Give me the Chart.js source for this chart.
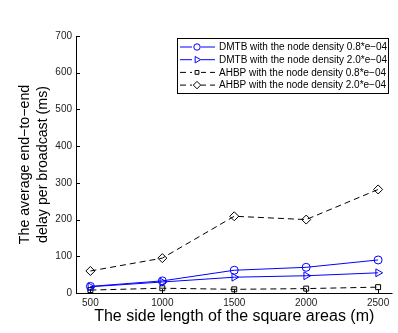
<!DOCTYPE html>
<html lang="en">
<head>
<meta charset="UTF-8">
<title>Average end-to-end delay</title>
<style>
    body { margin: 0; background: #fff; }
    #wrap { width: 398px; height: 333px; }
</style>
<script src="https://cdn.jsdelivr.net/npm/chart.js"></script>
</head>
<body>
<div id="wrap"><canvas id="delayChart" width="398" height="333"></canvas></div>
<script>
// data
const sideLengths = [500, 1000, 1500, 2000, 2500];
const dmtb08 = [18, 33, 62, 70, 90];
const dmtb20 = [17, 30, 43, 47, 55];
const ahbp08 = [8, 13, 10, 12, 16];
const ahbp20 = [60, 95, 209, 200, 282];
const xTicks = [500, 1000, 1500, 2000, 2500];
const yTicks = [0, 100, 200, 300, 400, 500, 600, 700];
const seriesNames = [
    'DMTB with the node density 0.8*e\u221204',
    'DMTB with the node density 2.0*e\u221204',
    'AHBP with the node density 0.8*e\u221204',
    'AHBP with the node density 2.0*e\u221204'
];

const FONT = "'Liberation Sans', Arial, Helvetica, sans-serif";

function pts(vals) {
    return sideLengths.map((x, i) => ({ x: x, y: vals[i] }));
}

// inward tick marks like matlab
const inwardTicks = {
    id: 'inwardTicks',
    afterDraw(chart) {
        const ctx = chart.ctx, a = chart.chartArea;
        const xs = chart.scales.x, ys = chart.scales.y;
        ctx.save();
        ctx.strokeStyle = '#000';
        ctx.lineWidth = 1;
        ctx.beginPath();
        ctx.moveTo(a.left + 0.5, a.top);
        ctx.lineTo(a.left + 0.5, a.bottom + 0.5);
        ctx.lineTo(a.right, a.bottom + 0.5);
        xTicks.forEach(v => {
            const px = Math.round(xs.getPixelForValue(v)) + 0.5;
            ctx.moveTo(px, a.bottom);
            ctx.lineTo(px, a.bottom - 4);
        });
        yTicks.forEach(v => {
            const py = Math.round(ys.getPixelForValue(v)) + 0.5;
            ctx.moveTo(a.left, py);
            ctx.lineTo(a.left + 4, py);
        });
        ctx.stroke();
        ctx.restore();
    }
};

// boxed legend inside the plot
const boxLegend = {
    id: 'boxLegend',
    afterDraw(chart) {
        const ctx = chart.ctx;
        const x0 = 177, y0 = 38, w = 211, h = 55;
        ctx.save();
        ctx.fillStyle = '#fff';
        ctx.fillRect(x0, y0, w, h);
        ctx.strokeStyle = '#000';
        ctx.lineWidth = 1;
        ctx.strokeRect(x0 + 0.5, y0 + 0.5, w, h);
        ctx.font = '10px ' + FONT;
        ctx.textBaseline = 'middle';
        chart.data.datasets.forEach((ds, i) => {
            const cy = y0 + 9 + i * 12.7;
            ctx.strokeStyle = ds.borderColor;
            ctx.lineWidth = 1;
            ctx.setLineDash(ds.borderDash || []);
            ctx.beginPath();
            ctx.moveTo(x0 + 3, cy);
            ctx.lineTo(x0 + 38, cy);
            ctx.stroke();
            ctx.setLineDash([]);
            // marker
            ctx.fillStyle = '#fff';
            ctx.fillRect(x0 + 15, cy - 4, 9, 8);
            Chart.helpers.drawPoint(ctx, {
                pointStyle: ds.pointStyle,
                radius: ds.pointRadius - 0.8,
                rotation: ds.pointRotation || 0,
                borderWidth: 1
            }, x0 + 20, cy);
            ctx.fillStyle = '#000';
            ctx.fillText(ds.label, x0 + 42, cy + 0.5);
        });
        ctx.restore();
    }
};

function makeSet(label, vals, color, style, r, dash, rot) {
    return {
        label: label,
        data: pts(vals),
        borderColor: color,
        backgroundColor: 'rgba(0,0,0,0)',
        pointBorderColor: color,
        pointBackgroundColor: 'rgba(0,0,0,0)',
        pointStyle: style,
        pointRadius: r,
        pointRotation: rot || 0,
        pointBorderWidth: 1,
        borderWidth: 1,
        borderDash: dash,
        tension: 0
    };
}

// grid lines are drawn by the plugin, keep the library ones invisible
const hiddenGrid = {
    display: true,
    drawOnChartArea: false,
    drawTicks: false,
    color: 'rgba(0,0,0,0)'
};

const ctx = document.getElementById('delayChart').getContext('2d');
new Chart(ctx, {
    type: 'line',
    data: {
        datasets: [
            makeSet(seriesNames[0], dmtb08, '#0000ff', 'circle', 4, []),
            makeSet(seriesNames[1], dmtb20, '#0000ff', 'triangle', 4.5, [], 90),
            makeSet(seriesNames[2], ahbp08, '#000000', 'rect', 3.5, [6, 4]),
            makeSet(seriesNames[3], ahbp20, '#000000', 'rectRot', 4.5, [6, 4])
        ]
    },
    options: {
        responsive: false,
        animation: false,
        layout: { padding: { top: 36, right: 3, left: 0, bottom: 0 } },
        plugins: {
            legend: { display: false },
            tooltip: { enabled: false }
        },
        scales: {
            x: {
                type: 'linear',
                min: 400,
                max: 2600,
                afterBuildTicks(scale) { scale.ticks = xTicks.map(v => ({ value: v })); },
                afterFit(scale) { scale.height = 40; },
                grid: hiddenGrid,
                border: { display: false },
                ticks: {
                    color: '#222',
                    font: { family: FONT, size: 10 },
                    padding: 4,
                    callback: v => String(v)
                },
                title: {
                    display: true,
                    text: 'The side length of the square areas (m)',
                    color: '#000',
                    font: { family: FONT, size: 16 },
                    padding: { top: 0, bottom: 7 }
                }
            },
            y: {
                min: 0,
                max: 700,
                afterBuildTicks(scale) { scale.ticks = yTicks.map(v => ({ value: v })); },
                afterFit(scale) { scale.width = 76; },
                grid: hiddenGrid,
                border: { display: false },
                ticks: {
                    color: '#222',
                    font: { family: FONT, size: 10 },
                    padding: 4,
                    callback: v => String(v)
                },
                title: {
                    display: true,
                    text: ['The average end\u2212to\u2212end', 'delay per broadcast (ms)'],
                    color: '#000',
                    font: { family: FONT, size: 14.2, lineHeight: 1.28 },
                    padding: { top: 16, bottom: 0 }
                }
            }
        }
    },
    plugins: [inwardTicks, boxLegend]
});
</script>
</body>
</html>
